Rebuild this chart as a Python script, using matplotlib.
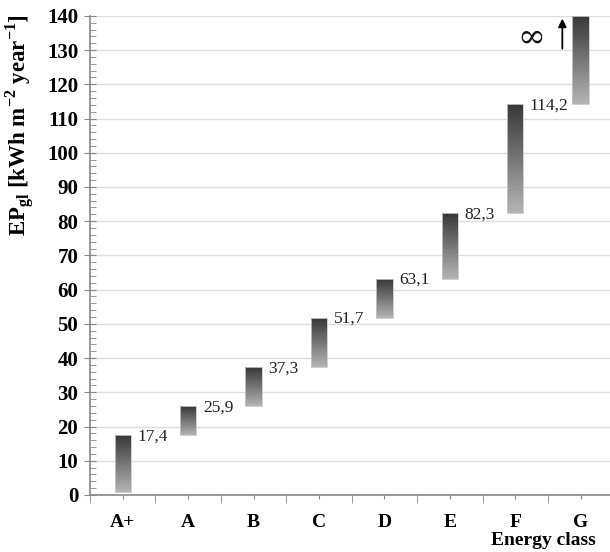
import numpy as np
import matplotlib.pyplot as plt
from matplotlib.ticker import MultipleLocator
from matplotlib.colors import LinearSegmentedColormap

# clases energeticas y limites de cada intervalo
clases = ['A+', 'A', 'B', 'C', 'D', 'E', 'F', 'G']
limite_inf = [0.8, 17.4, 25.9, 37.3, 51.7, 63.1, 82.3, 114.2]
limite_sup = [17.4, 25.9, 37.3, 51.7, 63.1, 82.3, 114.2, 140]
etiquetas = ['17,4', '25,9', '37,3', '51,7', '63,1', '82,3', '114,2', None]

plt.rcParams['font.family'] = ['Liberation Serif', 'DejaVu Serif']

fig = plt.figure(figsize=(6.1, 5.52), dpi=100)
ax = fig.add_axes([0.1475, 0.1033, 0.858, 0.868])

# degradado: claro abajo, oscuro arriba
grises = LinearSegmentedColormap.from_list('grises', ['#b4b4b4', '#383838'])
n_tramos = 80

ancho = 0.25
for i, (lo, hi) in enumerate(zip(limite_inf, limite_sup)):
    bordes = np.linspace(lo, hi, n_tramos + 1)
    colores = grises(np.linspace(0, 1, n_tramos))
    ax.bar([i] * n_tramos, np.diff(bordes), bottom=bordes[:-1], width=ancho,
           color=colores, edgecolor='none', linewidth=0, zorder=3)
    ax.bar(i, hi - lo, bottom=lo, width=ancho, fill=False,
           edgecolor='#c8c8c8', linewidth=0.6, zorder=4)
    if etiquetas[i]:
        ax.text(i + ancho / 2 + 0.1, hi - 0.3, etiquetas[i], fontsize=12.5,
                va='center', ha='left', color='#222222', zorder=5)

# simbolo de infinito para la clase G
ax.text(6.24, 133.6, '∞', fontsize=24, ha='center', va='center', color='#111111',
        family=['DejaVu Serif'])
ax.annotate('', xy=(6.72, 140), xytext=(6.72, 129.6),
            arrowprops=dict(arrowstyle='-|>', color='black', lw=1.3, mutation_scale=12))

ax.set_xlim(-0.5, len(clases) - 0.5)
ax.set_ylim(0, 140)
ax.set_xticks(range(len(clases)))
ax.set_xticklabels(clases, fontsize=14, fontweight='bold')
ax.set_xticks(np.arange(-0.5, len(clases)), minor=True)
ax.tick_params(axis='x', which='major', length=3, color='#888888', pad=11)
ax.tick_params(axis='x', which='minor', length=6, color='#888888', direction='out')

ax.yaxis.set_major_locator(MultipleLocator(10))
ax.yaxis.set_minor_locator(MultipleLocator(2))
ax.tick_params(axis='y', which='major', length=9, direction='inout', color='#888888',
               labelsize=15, pad=4)
ax.tick_params(axis='y', which='minor', length=4, direction='in', color='#888888')
for lab in ax.get_yticklabels():
    lab.set_fontweight('bold')

ax.grid(axis='y', color='#dddddd', lw=1, zorder=0)
ax.set_axisbelow(True)
for s in ['top', 'right']:
    ax.spines[s].set_visible(False)
for s in ['left', 'bottom']:
    ax.spines[s].set_color('#888888')
    ax.spines[s].set_linewidth(1.2)

fig.text(0.032, 0.975, r'EP$_{\mathregular{gl}}$ [kWh m$^{\mathregular{-2}}$ year$^{\mathregular{-1}}$]',
         rotation=90, ha='center', va='top', fontsize=16.5, fontweight='bold')
fig.text(0.977, 0.005, 'Energy class', ha='right', va='bottom', fontsize=14, fontweight='bold')

plt.savefig('out.png', dpi=100)
